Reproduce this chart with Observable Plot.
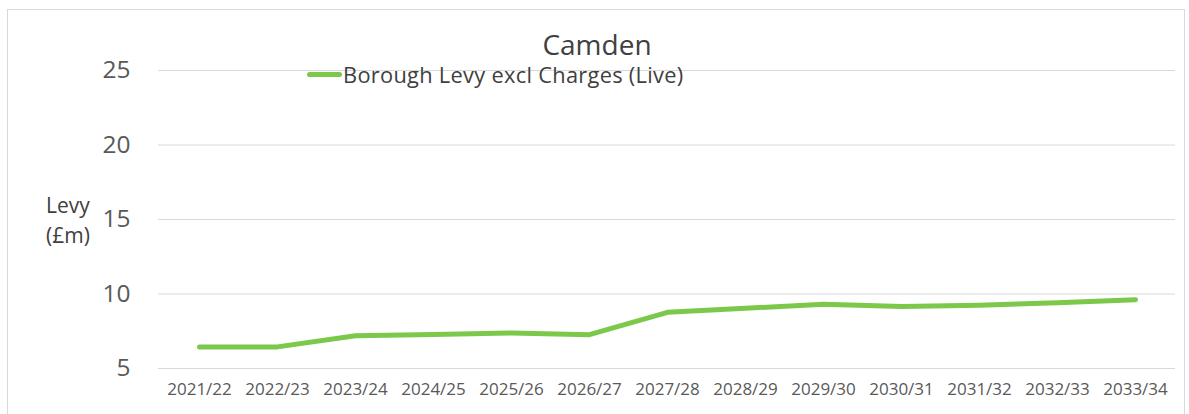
<!DOCTYPE html>
<html>
<head>
<meta charset="utf-8">
<script src="https://cdn.jsdelivr.net/npm/d3@7"></script>
<script src="https://cdn.jsdelivr.net/npm/@observablehq/plot@0.6"></script>
<style>
  html, body { margin: 0; padding: 0; background: #fff; }
  #wrap { position: relative; width: 1189px; height: 414px; overflow: hidden; font-family: "Open Sans", sans-serif; }
  #frame { position: absolute; left: 7px; top: 9px; width: 1178px; height: 420px; border: 1px solid #d9d9d9; box-sizing: border-box; }
  #chart { position: absolute; left: 0; top: 0; }
  #title { position: absolute; left: 0; width: 1194px; top: 25px; text-align: center; font-size: 28px; color: #404040; }
  #legend { position: absolute; left: 307px; top: 60px; font-size: 21.8px; letter-spacing: 0.3px; color: #404040; display: flex; align-items: center; }
  #legend .sw { width: 35px; height: 5px; background: #7cc84a; border-radius: 3px; margin-right: 1px; }
  #ylab { position: absolute; left: 46px; top: 190px; font-size: 21px; color: #404040; line-height: 30px; }
</style>
</head>
<body>
<div id="wrap">
  <div id="frame"></div>
  <div id="chart"></div>
  <div id="title"></div>
  <div id="legend"><div class="sw"></div><span id="legtext"></span></div>
  <div id="ylab">Levy<br>(£m)</div>
</div>
<script>
const years = ["2021/22","2022/23","2023/24","2024/25","2025/26","2026/27","2027/28","2028/29","2029/30","2030/31","2031/32","2032/33","2033/34"];
const levy = [6.45, 6.45, 7.2, 7.28, 7.38, 7.27, 8.77, 9.04, 9.32, 9.16, 9.24, 9.42, 9.62];
const yTicks = [5, 10, 15, 20, 25];
const titleText = "Camden";
const seriesName = "Borough Levy excl Charges (Live)";

const data = years.map((y, i) => ({year: y, value: levy[i]}));

document.getElementById("title").textContent = titleText;
document.getElementById("legtext").textContent = seriesName;

const chart = Plot.plot({
  width: 1189,
  height: 414,
  marginLeft: 158,
  marginRight: 14,
  marginTop: 70,
  marginBottom: 46,
  style: {fontFamily: "Open Sans, sans-serif", background: "transparent"},
  x: {type: "point", domain: years, padding: 0.5, label: null},
  y: {domain: [5, 25], label: null},
  marks: [
    Plot.ruleY(yTicks, {stroke: "#d9d9d9", strokeWidth: 1}),
    Plot.axisY(yTicks, {tickSize: 0, tickPadding: 28, fontSize: 24.5, fill: "#595959", label: null}),
    Plot.axisX(years, {tickSize: 0, tickPadding: 14, fontSize: 17, fill: "#595959", label: null}),
    Plot.line(data, {x: "year", y: "value", stroke: "#7cc84a", strokeWidth: 5, strokeLinecap: "round", strokeLinejoin: "round"})
  ]
});
document.getElementById("chart").appendChild(chart);
</script>
</body>
</html>
